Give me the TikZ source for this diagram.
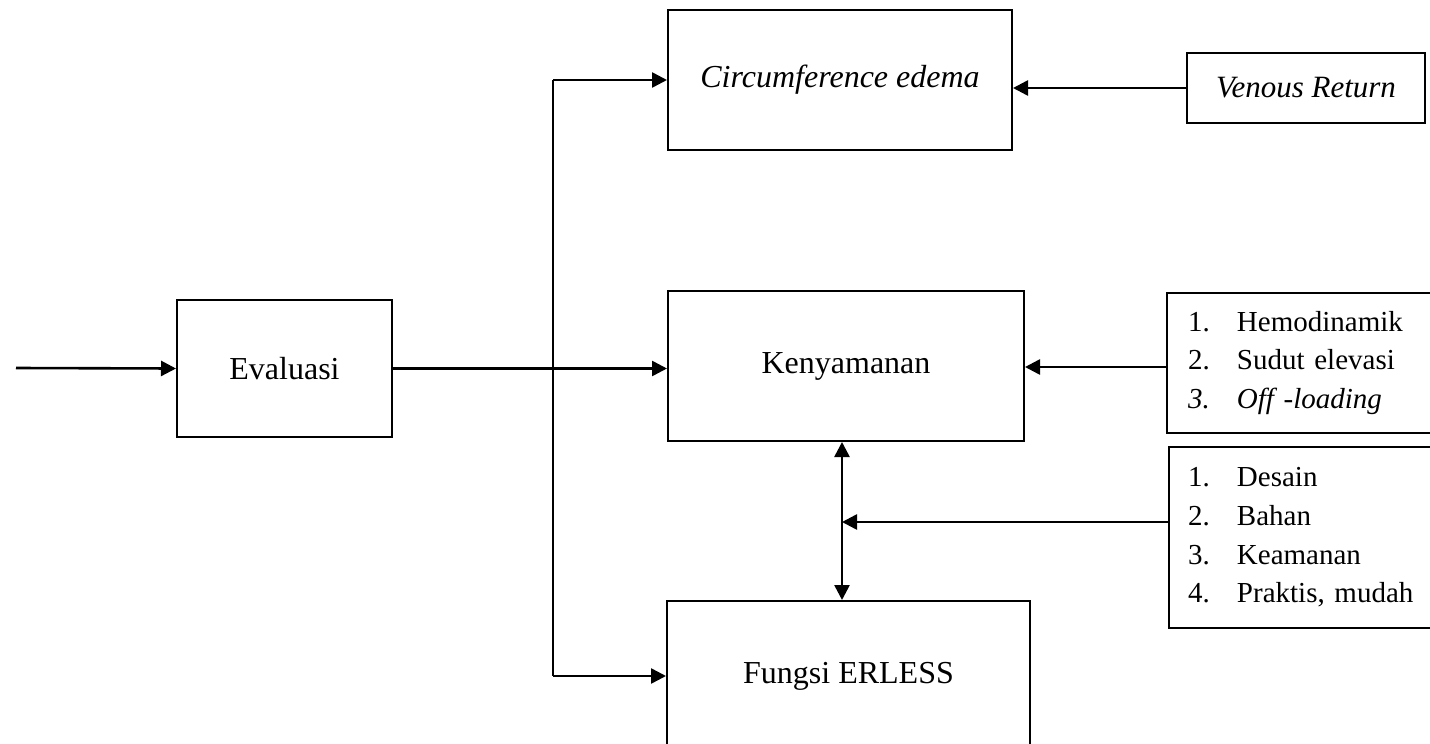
\documentclass[tikz,border=0pt]{standalone}
\usepackage{fontspec}
\setmainfont{Liberation Serif}
\usetikzlibrary{arrows.meta}

\newcommand{\itm}[2]{\makebox[24.5pt][l]{#1}#2}

\begin{document}
\begin{tikzpicture}[
  x=0.5pt, y=-0.5pt,
  blk/.style={draw, line width=1pt, font=\fontsize{16}{19.2}\selectfont, inner sep=0pt},
  lst/.style={draw, line width=1pt, font=\fontsize{14.5}{19.3}\selectfont, align=left, inner ysep=0pt},
  arr/.style={-{Triangle[length=7.5pt,width=7.5pt]}, line width=1.3pt},
  dbl/.style={{Triangle[length=7.5pt,width=7.5pt]}-{Triangle[length=7.5pt,width=7.5pt]}, line width=1.3pt}
]
\useasboundingbox (0,0) rectangle (1430,744);
\clip (0,0) rectangle (1430,744);

\node[blk, minimum width=107.5pt, minimum height=68.5pt] (eval)   at (284.5,368.5) {Evaluasi};
\node[blk, minimum width=172pt,   minimum height=70pt]   (circ)   at (840,80)      {\itshape Circumference edema};
\node[blk, minimum width=119pt,   minimum height=35pt, font=\fontsize{15.5}{18}\selectfont] (venous) at (1306,88) {\itshape Venous Return};
\node[blk, minimum width=178pt,   minimum height=75pt]   (kenya)  at (846,366)     {Kenyamanan};
\node[blk, minimum width=181.5pt, minimum height=75pt]   (fungsi) at (848.5,676)   {Fungsi ERLESS};
\node[lst, inner xsep=10.5pt, text width=118pt, minimum height=70pt] (hemo) at (1306,363)
  {\itm{1.}{Hemodinamik}\\ \itm{2.}{Sudut elevasi}\\ \itshape\itm{3.}{Off -loading}};
\node[lst, inner xsep=9.5pt, text width=119pt, minimum height=90.5pt] (desain) at (1307,537.5)
  {\itm{1.}{Desain}\\ \itm{2.}{Bahan}\\ \itm{3.}{Keamanan}\\ \itm{4.}{Praktis, mudah}};

\coordinate (in)  at (16,368);
\coordinate (bus) at (553,368);
\coordinate (jn)  at (842,522);

\draw[arr] (in) -- (eval.west);
\draw[arr] (eval.east) -- (eval.east -| kenya.west);
\draw[line width=1.3pt] (bus |- circ.west) -- (bus |- fungsi.west);
\draw[arr] (bus |- circ.west) -- (circ.west);
\draw[arr] (bus |- fungsi.west) -- (fungsi.west);
\draw[arr] (venous.west) -- (venous.west -| circ.east);
\draw[arr] (hemo.west) ++(0,4) -- (kenya.east |- 0,367);
\draw[dbl] (jn |- kenya.south) -- (jn |- fungsi.north);
\draw[arr] (desain.west |- jn) -- (jn);
\end{tikzpicture}
\end{document}
